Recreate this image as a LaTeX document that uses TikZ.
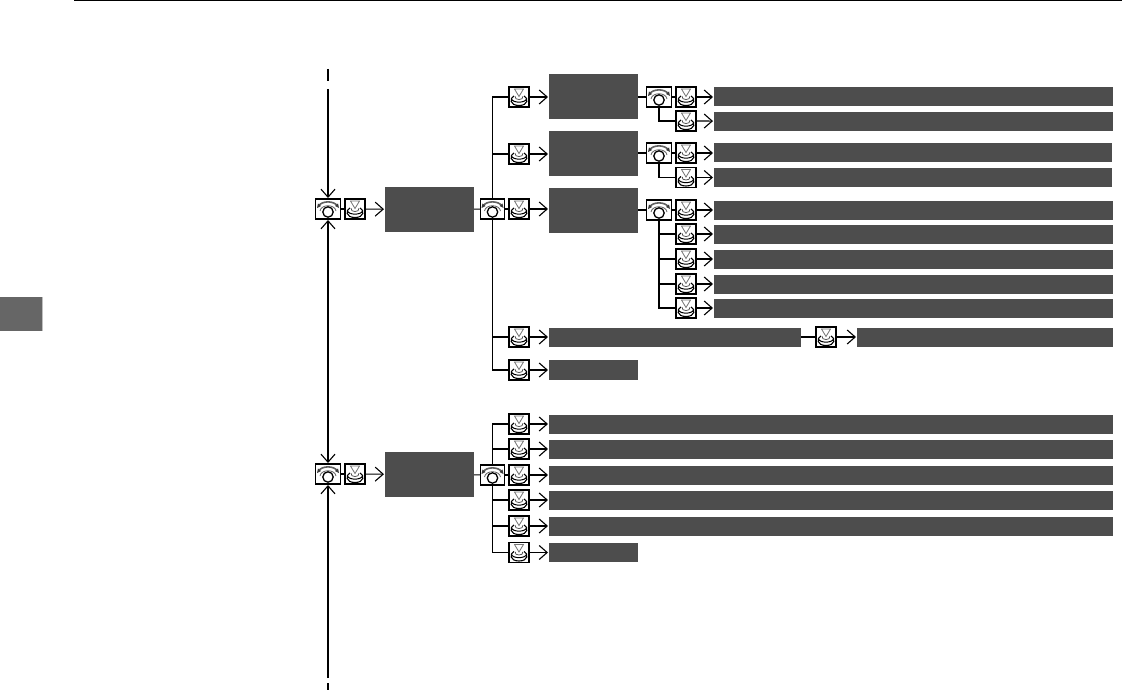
\documentclass[tikz,border=0pt]{standalone}
\usetikzlibrary{arrows.meta}
\definecolor{darkfill}{HTML}{4D4D4D}
\definecolor{tabfill}{HTML}{666666}
\definecolor{glyph}{HTML}{3A3A3A}
\newcommand{\pressglyph}{%
  \begin{scope}[shift={(path picture bounding box.center)}]
    \draw[glyph!70,line width=.8pt] (-4.5,-8) -- (4.5,-8) -- (0,-.5) -- cycle;
    \draw[black,line width=1.1pt] (-5,-1) .. controls (-9.5,1) and (-9.5,8.5) .. (0,8.5) .. controls (9.5,8.5) and (9.5,1) .. (5,-1);
    \draw[black,line width=1pt] (-7.5,2) .. controls (-6,6.2) and (6,6.2) .. (7.5,2);
    \draw[glyph,line width=.7pt] (-3.8,-.5) .. controls (-5,3.5) and (5,3.5) .. (3.8,-.5);
  \end{scope}}
\newcommand{\turnglyph}{%
  \begin{scope}[shift={(path picture bounding box.center)}]
    \draw[glyph!80,line width=1.6pt] (-9.5,-3) .. controls (-6,-8.5) and (6,-8.5) .. (9.5,-3);
    \draw[glyph!80,line width=.8pt] (-8,2) .. controls (-7,-5) and (7,-5) .. (8,2);
    \fill[glyph] (-11,-1) -- (-10,-5.5) -- (-7,-3) -- cycle;
    \fill[glyph] (11,-1) -- (10,-5.5) -- (7,-3) -- cycle;
    \draw[black,line width=1.3pt] (0,3) circle (5.2);
  \end{scope}}
\tikzset{
  x=1pt,y=-1pt,
  every node/.style={inner sep=0pt,outer sep=0pt},
  link/.style={line width=1.1pt,black},
  flow/.style={link,-{Straight Barb[length=8pt,width=14pt,line width=1.1pt]},shorten >=1pt},
  presskey/.style={draw=black,line width=1.1pt,fill=white,minimum width=20pt,minimum height=20pt,path picture={\pressglyph}},
  turnkey/.style={draw=black,line width=1.1pt,fill=white,minimum width=24.5pt,minimum height=20pt,path picture={\turnglyph}},
  panel/.style={fill=darkfill,minimum width=89pt,minimum height=45pt},
  longbar/.style={fill=darkfill,minimum width=399pt,minimum height=19pt},
  widebar/.style={fill=darkfill,minimum width=564pt,minimum height=19pt},
  shortbar/.style={fill=darkfill,minimum width=89pt,minimum height=19pt},
}
\begin{document}
\begin{tikzpicture}
\useasboundingbox (0,0) rectangle (1122,690);
% page furniture
\fill[black] (74,0) rectangle (1122,1.5);
\fill[tabfill] (0,297) rectangle (42,331);
\fill[black!25] (42,297) rectangle (43,331);

% left column
\node[turnkey]  (t1) at (328,209) {};
\node[presskey] (k1) at (355,209) {};
\node[panel]    (m1) at (429.5,209.5) {};
\node[turnkey]  (t2) at (328,474) {};
\node[presskey] (k2) at (355,474) {};
\node[panel]    (m2) at (429.5,474.5) {};

% free ends of the return line
\coordinate (a0) at (328,69);
\coordinate (a1) at (328,81);
\coordinate (a2) at (328,89);
\coordinate (b0) at (328,683);
\coordinate (b1) at (328,690);
\coordinate (b2) at (328,678);
\draw[link] (a0) -- (a1);
\draw[link] (b0) -- (b1);
\draw[flow] (a2) -- (t1.north);
\draw[flow,shorten <=1pt,{Straight Barb[length=8pt,width=14pt,line width=1.1pt]}-{Straight Barb[length=8pt,width=14pt,line width=1.1pt]}] (t1.south) -- (t2.north);
\draw[flow] (b2) -- (t2.south);

\draw[link] (t1) -- (k1);
\draw[flow] (k1) -- (m1);
\draw[link] (t2) -- (k2);
\draw[flow] (k2) -- (m2);

% upper branch
\node[turnkey]  (u)  at (492.5,209) {};
\node[presskey] (ua) at (519,97) {};
\node[presskey] (ub) at (519,154) {};
\node[presskey] (uc) at (519,209) {};
\node[presskey] (ud) at (519,337) {};
\node[presskey] (ue) at (519,370) {};
\node[panel]    (pa) at (593.5,97) {};
\node[panel]    (pb) at (593.5,153.5) {};
\node[panel]    (pc) at (593.5,210.5) {};
\node[fill=darkfill,minimum width=252pt,minimum height=19pt] (bd) at (675,337) {};
\node[presskey] (kd) at (826,337) {};
\node[fill=darkfill,minimum width=256pt,minimum height=19pt] (bd2) at (985,337) {};
\node[shortbar,minimum height=20pt] (be) at (593.5,370) {};

\draw[link] (m1) -- (u);
\draw[link] (u) -- (uc);
\draw[link] (u.north) |- (ua.west);
\draw[link] (u.north) |- (ub.west);
\draw[link] (u.south) |- (ud.west);
\draw[link] (u.south) |- (ue.west);
\draw[flow] (ua) -- (pa);
\draw[flow] (ub) -- (ub -| pb.west);
\draw[flow] (uc) -- (uc -| pc.west);
\draw[flow] (ud) -- (bd);
\draw[flow] (ue) -- (be);
\draw[link] (bd) -- (kd);
\draw[flow] (kd) -- (bd2);

% first sub-menu
\node[turnkey]  (sa) at (659,97) {};
\node[presskey] (sa1) at (686,97) {};
\node[presskey] (sa2) at (686,121) {};
\node[longbar]  (ba1) at (913.5,97) {};
\node[longbar]  (ba2) at (913.5,121.5) {};
\draw[link] (pa) -- (sa);
\draw[link] (sa) -- (sa1);
\draw[link] (sa.south) |- (sa2.west);
\draw[flow] (sa1) -- (ba1);
\draw[flow] (sa2) -- (ba2);

% second sub-menu
\node[turnkey]  (sb) at (659,153) {};
\node[presskey] (sb1) at (686,153) {};
\node[presskey] (sb2) at (686,177.5) {};
\node[longbar,minimum width=398pt] (bb1) at (913,153) {};
\node[longbar,minimum width=398pt] (bb2) at (913,177.5) {};
\draw[link] (pb.east |- sb) -- (sb);
\draw[link] (sb) -- (sb1);
\draw[link] (sb.south) |- (sb2.west);
\draw[flow] (sb1) -- (bb1);
\draw[flow] (sb2) -- (bb2);

% third sub-menu
\node[turnkey]  (sc) at (659,210) {};
\node[presskey] (sc1) at (686,210) {};
\node[presskey] (sc2) at (686,234) {};
\node[presskey] (sc3) at (686,259) {};
\node[presskey] (sc4) at (686,284) {};
\node[presskey] (sc5) at (686,308) {};
\node[longbar]  (bc1) at (913.5,210) {};
\node[longbar]  (bc2) at (913.5,234) {};
\node[longbar]  (bc3) at (913.5,259) {};
\node[longbar]  (bc4) at (913.5,284) {};
\node[longbar]  (bc5) at (913.5,308) {};
\draw[link] (pc.east |- sc) -- (sc);
\draw[link] (sc) -- (sc1);
\draw[link] (sc.south) |- (sc2.west);
\draw[link] (sc.south) |- (sc3.west);
\draw[link] (sc.south) |- (sc4.west);
\draw[link] (sc.south) |- (sc5.west);
\draw[flow] (sc1) -- (bc1);
\draw[flow] (sc2) -- (bc2);
\draw[flow] (sc3) -- (bc3);
\draw[flow] (sc4) -- (bc4);
\draw[flow] (sc5) -- (bc5);

% lower branch
\node[turnkey]  (v)  at (492.5,475) {};
\node[presskey] (va) at (519,424) {};
\node[presskey] (vb) at (519,449) {};
\node[presskey] (vc) at (519,475) {};
\node[presskey] (vd) at (519,500) {};
\node[presskey] (ve) at (519,526) {};
\node[presskey] (vf) at (519,552.5) {};
\node[widebar]  (wa) at (831,424) {};
\node[widebar]  (wb) at (831,449) {};
\node[widebar]  (wc) at (831,475) {};
\node[widebar]  (wd) at (831,500) {};
\node[widebar]  (we) at (831,526) {};
\node[shortbar] (wf) at (593.5,552.5) {};
\draw[link] (m2) -- (v);
\draw[link] (v) -- (vc);
\draw[link] (v.north) |- (va.west);
\draw[link] (v.north) |- (vb.west);
\draw[link] (v.south) |- (vd.west);
\draw[link] (v.south) |- (ve.west);
\draw[link] (v.south) |- (vf.west);
\draw[flow] (va) -- (wa);
\draw[flow] (vb) -- (wb);
\draw[flow] (vc) -- (wc);
\draw[flow] (vd) -- (wd);
\draw[flow] (ve) -- (we);
\draw[flow] (vf) -- (wf);
\end{tikzpicture}
\end{document}
